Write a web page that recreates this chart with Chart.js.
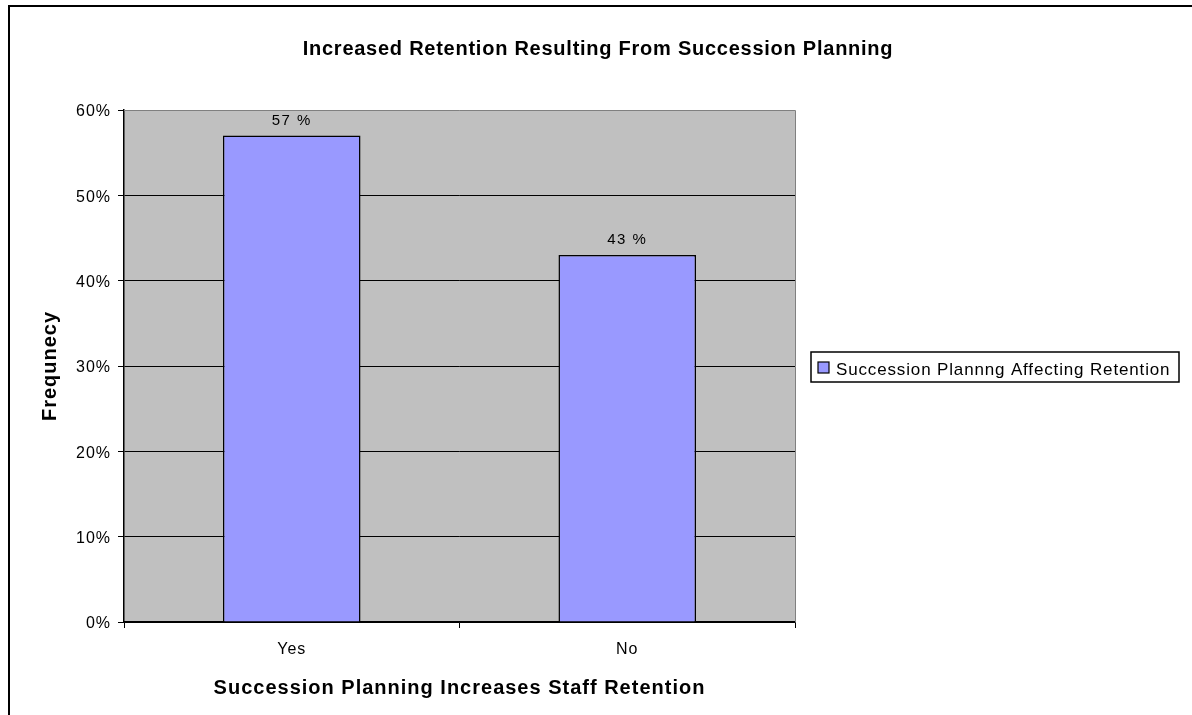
<!DOCTYPE html>
<html>
<head>
<meta charset="utf-8">
<title>Increased Retention Resulting From Succession Planning</title>
<script src="https://cdn.jsdelivr.net/npm/chart.js@4/dist/chart.umd.min.js"></script>
<style>
  html, body { margin: 0; padding: 0; background: #ffffff; }
  #wrap { width: 1192px; height: 715px; position: relative; }
</style>
</head>
<body>
<div id="wrap"><canvas id="c" width="1192" height="715"></canvas></div>
<script>
// Chart content
const chartTitle = 'Increased Retention Resulting From Succession Planning';
const categories = ['Yes', 'No'];
const seriesName = 'Succession Plannng Affecting Retention';
const frequencies = [57, 43];           // percent
const yTicks = [0, 10, 20, 30, 40, 50, 60];
const yAxisTitle = 'Frequnecy';
const xAxisTitle = 'Succession Planning Increases Staff Retention';

const FONT = "'Liberation Sans', Arial, sans-serif";
const BAR_FILL = '#9999FF';
const PLOT_BG = '#C0C0C0';
const SPACING = '1px';   // wide, screen-style lettering for the labels

// chart area edges
const AREA = { left: 124, top: 110, right: 795, bottom: 622 };
const PAD = { left: 28, right: 1192 - AREA.right, top: AREA.top, bottom: 0 };

const decorations = {
  id: 'decorations',
  beforeDraw(chart) {
    const ctx = chart.ctx;
    const a = chart.chartArea;
    ctx.letterSpacing = SPACING;
    ctx.save();
    ctx.fillStyle = '#ffffff';
    ctx.fillRect(0, 0, chart.width, chart.height);
    // outer frame
    ctx.strokeStyle = '#000000';
    ctx.lineWidth = 2;
    ctx.beginPath();
    ctx.moveTo(9, chart.height + 5);
    ctx.lineTo(9, 6);
    ctx.lineTo(chart.width + 5, 6);
    ctx.stroke();
    // plot background
    ctx.fillStyle = PLOT_BG;
    ctx.fillRect(a.left, a.top, a.right - a.left, a.bottom - a.top);
    ctx.restore();
  },
  afterDatasetsDraw(chart) {
    const ctx = chart.ctx;
    const a = chart.chartArea;
    ctx.save();
    // plot border (top and right)
    ctx.strokeStyle = '#808080';
    ctx.lineWidth = 1;
    ctx.beginPath();
    ctx.moveTo(a.left, a.top + 0.5);
    ctx.lineTo(a.right + 0.5, a.top + 0.5);
    ctx.lineTo(a.right + 0.5, a.bottom);
    ctx.stroke();

    // value labels above bars
    const meta = chart.getDatasetMeta(0);
    ctx.fillStyle = '#000000';
    ctx.letterSpacing = '1.5px';
    ctx.font = '15px ' + FONT;
    ctx.textAlign = 'center';
    ctx.textBaseline = 'alphabetic';
    meta.data.forEach((bar, i) => {
      const v = chart.data.datasets[0].data[i];
      ctx.fillText(v + ' %', bar.x, bar.y - 11);
    });

    // title
    ctx.letterSpacing = '0.75px';
    ctx.font = 'bold 20px ' + FONT;
    ctx.fillText(chartTitle, 598, 55);

    // legend
    const lx = 811, ly = 352, lw = 368, lh = 30;
    ctx.fillStyle = '#ffffff';
    ctx.fillRect(lx, ly, lw, lh);
    ctx.strokeStyle = '#000000';
    ctx.lineWidth = 1.5;
    ctx.strokeRect(lx, ly, lw, lh);
    ctx.fillStyle = BAR_FILL;
    ctx.fillRect(818, 362, 11, 11);
    ctx.lineWidth = 1.2;
    ctx.strokeRect(818, 362, 11, 11);
    ctx.fillStyle = '#000000';
    ctx.textAlign = 'left';
    ctx.letterSpacing = '0.85px';
    ctx.font = '17px ' + FONT;
    ctx.fillText(chart.data.datasets[0].label, 836, 375);
    ctx.restore();
  }
};

new Chart(document.getElementById('c'), {
  type: 'bar',
  data: {
    labels: categories,
    datasets: [{
      label: seriesName,
      data: frequencies,
      backgroundColor: BAR_FILL,
      borderColor: '#000000',
      borderWidth: 1.5,
      barPercentage: 0.82,
      categoryPercentage: 0.5
    }]
  },
  options: {
    responsive: false,
    animation: false,
    events: [],
    layout: { padding: PAD },
    plugins: {
      legend: { display: false },
      title: { display: false },
      tooltip: { enabled: false }
    },
    scales: {
      x: {
        offset: true,
        grid: {
          offset: true,
          drawOnChartArea: false,
          drawTicks: true,
          tickLength: 6,
          tickColor: '#000000',
          tickWidth: 1
        },
        border: { display: true, color: '#000000', width: 1.5 },
        ticks: { color: '#000000', padding: 12, font: { family: FONT, size: 16 } },
        title: {
          display: true,
          text: xAxisTitle,
          color: '#000000',
          font: { family: FONT, size: 20, weight: 'bold' },
          padding: { top: 0, bottom: 15 }
        },
        afterFit(scale) { scale.height = 715 - AREA.bottom - PAD.bottom; }
      },
      y: {
        min: yTicks[0],
        max: yTicks[yTicks.length - 1],
        afterBuildTicks(scale) { scale.ticks = yTicks.map(v => ({ value: v })); },
        grid: {
          color: ctx => (ctx.tick && ctx.tick.value === yTicks[yTicks.length - 1]) ? 'rgba(0,0,0,0)' : '#000000',
          lineWidth: 1,
          drawTicks: true,
          tickLength: 6,
          tickColor: '#000000'
        },
        border: { display: true, color: '#000000', width: 1.5 },
        ticks: {
          color: '#000000',
          padding: 7,
          labelOffset: 2,
          font: { family: FONT, size: 16 },
          callback: v => v + '%'
        },
        title: {
          display: true,
          text: yAxisTitle,
          color: '#000000',
          font: { family: FONT, size: 20, weight: 'bold' },
          padding: { top: 10, bottom: 0 }
        },
        afterFit(scale) { scale.width = AREA.left - PAD.left; }
      }
    }
  },
  plugins: [decorations]
});
</script>
</body>
</html>
